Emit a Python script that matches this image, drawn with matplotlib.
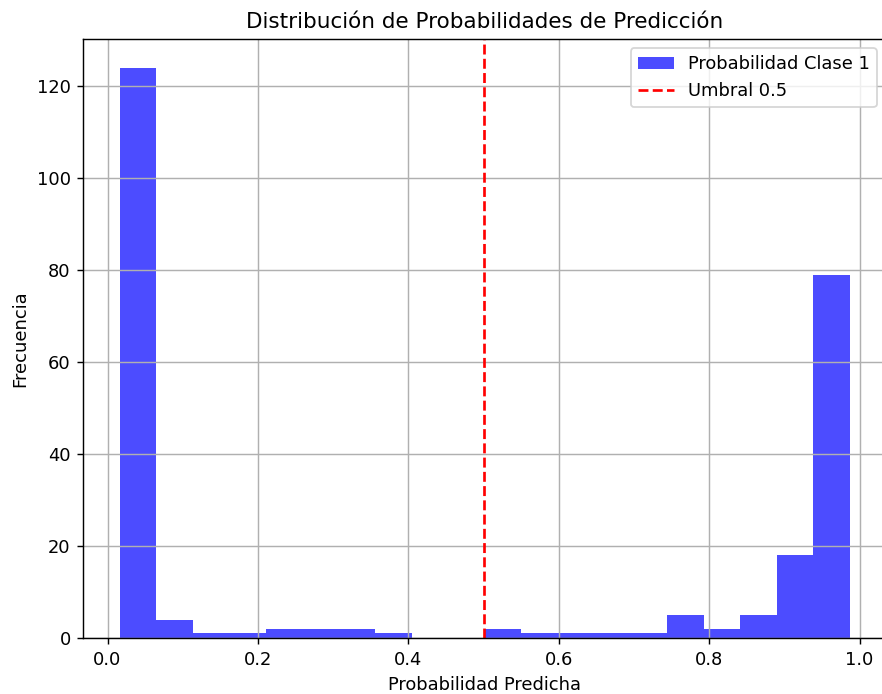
import numpy as np
import matplotlib.pyplot as plt

# Histogram of predicted probabilities (20 bins)
prob_min = 0.0163
prob_max = 0.9865
counts = [124, 4, 1, 1, 2, 2, 2, 1, 0, 0,
          2, 1, 1, 1, 1, 5, 2, 5, 18, 79]
threshold = 0.5

edges = np.linspace(prob_min, prob_max, len(counts) + 1)
centers = (edges[:-1] + edges[1:]) / 2

dpi = 129
fig = plt.figure(figsize=(882 / dpi, 694 / dpi), dpi=dpi)
ax = fig.add_axes([83.3 / 882, 1 - 638 / 694, (886 - 83.3) / 882, (638 - 39) / 694])

ax.hist(centers, bins=edges, weights=counts, color='blue', alpha=0.7,
        label='Probabilidad Clase 1')
ax.axvline(threshold, color='red', linestyle='--', label='Umbral 0.5')

ax.set_title('Distribución de Probabilidades de Predicción')
ax.set_xlabel('Probabilidad Predicha')
ax.set_ylabel('Frecuencia')
ax.grid(True)
ax.legend()

fig.savefig('out.png', dpi=dpi)
